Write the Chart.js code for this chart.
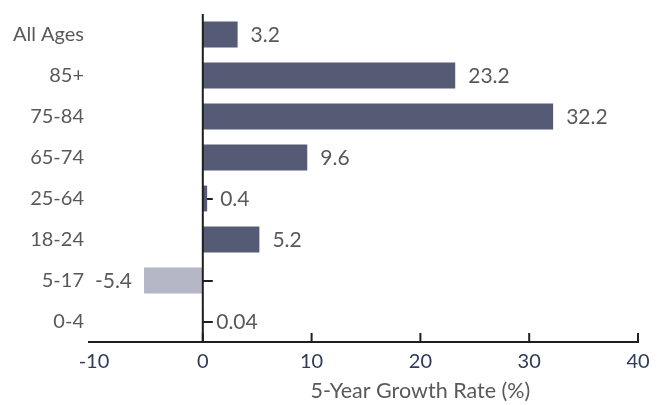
<!DOCTYPE html>
<html>
<head>
<meta charset="utf-8">
<title>5-Year Growth Rate by Age Group</title>
<script src="https://cdn.jsdelivr.net/npm/chart.js"></script>
<style>
  html, body { margin: 0; padding: 0; background: #fff; }
  canvas { display: block; }
</style>
</head>
<body>
<canvas id="growthChart" width="662" height="405"></canvas>
<script>
const ageGroups = ['All Ages', '85+', '75-84', '65-74', '25-64', '18-24', '5-17', '0-4'];
const growthRates = [3.2, 23.2, 32.2, 9.6, 0.4, 5.2, -5.4, 0.04];
const valueLabels = ['3.2', '23.2', '32.2', '9.6', '0.4', '5.2', '-5.4', '0.04'];
const xTicks = [-10, 0, 10, 20, 30, 40];
const axisTitle = '5-Year Growth Rate (%)';

const FONT = 'Lato, "Open Sans", sans-serif';
const GREY = '#595959';
const AXIS = '#1f1f1f';

// axis lines, tick marks, bar value labels and the x title
const axisDecor = {
  id: 'axisDecor',
  beforeDatasetsDraw(chart) {
    const { ctx, scales: { x, y } } = chart;
    const zeroX = x.getPixelForValue(0);
    ctx.save();
    ctx.strokeStyle = AXIS;
    ctx.lineWidth = 2;
    // category ticks pointing right off the zero line
    ageGroups.forEach((_, i) => {
      const py = Math.round(y.getPixelForValue(i));
      ctx.beginPath();
      ctx.moveTo(zeroX, py);
      ctx.lineTo(zeroX + 10, py);
      ctx.stroke();
    });
    ctx.restore();
  },
  afterDatasetsDraw(chart) {
    const { ctx, chartArea, scales: { x } } = chart;
    const zeroX = x.getPixelForValue(0);
    ctx.save();
    ctx.strokeStyle = AXIS;
    ctx.lineWidth = 2;
    // zero line
    ctx.beginPath();
    ctx.moveTo(zeroX, chartArea.top);
    ctx.lineTo(zeroX, chartArea.bottom);
    ctx.stroke();
    // x axis line and upward ticks
    ctx.beginPath();
    ctx.moveTo(chartArea.left - 6, chartArea.bottom);
    ctx.lineTo(chartArea.right + 1, chartArea.bottom);
    ctx.stroke();
    xTicks.filter(v => v > xTicks[0]).forEach(v => {
      const px = x.getPixelForValue(v);
      ctx.beginPath();
      ctx.moveTo(px, chartArea.bottom);
      ctx.lineTo(px, chartArea.bottom - 9);
      ctx.stroke();
    });

    // value labels beside each bar
    ctx.font = '21px ' + FONT;
    ctx.fillStyle = GREY;
    ctx.textBaseline = 'middle';
    const meta = chart.getDatasetMeta(0);
    meta.data.forEach((bar, i) => {
      const v = growthRates[i];
      if (v < 0) {
        ctx.textAlign = 'right';
        ctx.fillText(valueLabels[i], bar.x - 12, bar.y + 1);
      } else {
        ctx.textAlign = 'left';
        ctx.fillText(valueLabels[i], Math.max(bar.x, zeroX) + 13, bar.y + 1);
      }
    });

    // axis title, centred over the positive range
    ctx.font = '21.5px ' + FONT;
    ctx.textAlign = 'center';
    ctx.fillText(axisTitle, x.getPixelForValue(20), 391);
    ctx.restore();
  }
};

new Chart(document.getElementById('growthChart'), {
  type: 'bar',
  data: {
    labels: ageGroups,
    datasets: [{
      data: growthRates,
      backgroundColor: growthRates.map(v => v < 0 ? '#b5b6c6' : '#565b75'),
      borderWidth: 0,
      barPercentage: 0.63,
      categoryPercentage: 1
    }]
  },
  options: {
    indexAxis: 'y',
    responsive: false,
    animation: false,
    layout: { padding: { top: 14, right: 24, left: 0, bottom: 0 } },
    plugins: {
      legend: { display: false },
      tooltip: { enabled: false }
    },
    scales: {
      x: {
        min: -10,
        max: 40,
        afterBuildTicks: scale => { scale.ticks = xTicks.map(v => ({ value: v })); },
        afterFit: scale => {
          scale.height = 63;
          scale.paddingLeft = 0;
          scale.paddingRight = 0;
        },
        grid: { display: false, drawTicks: false },
        border: { display: false },
        ticks: {
          padding: 8,
          color: '#2d3a58',
          font: { family: FONT, size: 20 }
        }
      },
      y: {
        afterFit: scale => {
          scale.width = 94;
          scale.paddingTop = 0;
          scale.paddingBottom = 0;
        },
        grid: { display: false, drawTicks: false },
        border: { display: false },
        ticks: {
          padding: 10,
          color: GREY,
          font: { family: FONT, size: 20 }
        }
      }
    }
  },
  plugins: [axisDecor]
});
</script>
</body>
</html>
